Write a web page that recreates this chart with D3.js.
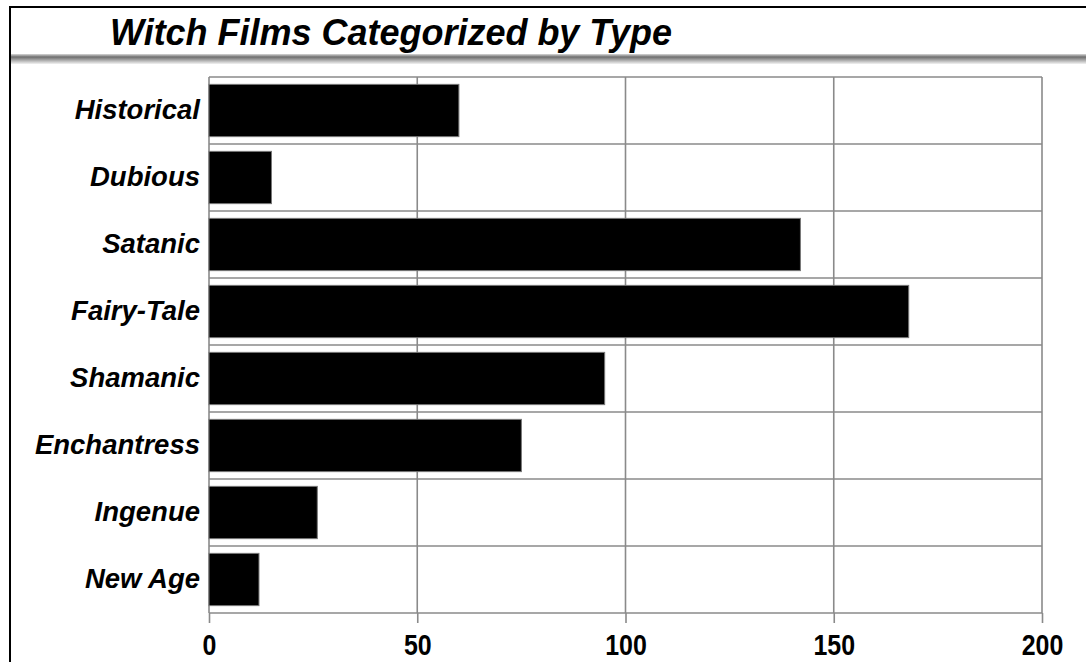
<!DOCTYPE html>
<html>
<head>
<meta charset="utf-8">
<script src="https://cdn.jsdelivr.net/npm/d3@7"></script>
<style>
  html, body { margin: 0; padding: 0; background: #fff; }
  svg { display: block; }
  text { font-family: "Liberation Sans", Arial, sans-serif; }
</style>
</head>
<body>
<svg id="chart" width="1086" height="662"></svg>
<script>
const title = "Witch Films Categorized by Type";
const categories = ["Historical", "Dubious", "Satanic", "Fairy-Tale", "Shamanic", "Enchantress", "Ingenue", "New Age"];
const values = [60, 15, 142, 168, 95, 75, 26, 12];
const tickValues = [0, 50, 100, 150, 200];

const svg = d3.select("#chart");
const W = 1086, H = 662;
const plot = { left: 209, right: 1042, top: 77, bottom: 613 };

// outer frame
svg.append("rect").attr("x", 10).attr("y", 7).attr("width", 1090).attr("height", 700)
  .attr("fill", "#fff").attr("stroke", "#000").attr("stroke-width", 2);

// title separator gradient
const defs = svg.append("defs");
const grad = defs.append("linearGradient").attr("id", "sep").attr("x1", 0).attr("y1", 0).attr("x2", 0).attr("y2", 1);
grad.append("stop").attr("offset", "0%").attr("stop-color", "#d8d8d8");
grad.append("stop").attr("offset", "30%").attr("stop-color", "#6e6e6e");
grad.append("stop").attr("offset", "100%").attr("stop-color", "#f2f2f2");
svg.append("rect").attr("x", 11).attr("y", 54).attr("width", W - 11).attr("height", 10).attr("fill", "url(#sep)");

// title
svg.append("text").attr("x", 110).attr("y", 45)
  .attr("font-size", 37).attr("font-weight", "bold").attr("font-style", "italic")
  .attr("fill", "#000").attr("textLength", 562).attr("lengthAdjust", "spacingAndGlyphs")
  .text(title);

const x = d3.scaleLinear().domain([0, 200]).range([plot.left, plot.right]);
const y = d3.scaleBand().domain(categories).range([plot.top, plot.bottom])
  .paddingInner(0.22).paddingOuter(0.11);

const gridColor = "#8a8a8a";

// horizontal grid lines at band boundaries
const step = y.step();
const hLines = d3.range(categories.length + 1).map(i => plot.top + i * step);
svg.append("g").selectAll("line").data(hLines).join("line")
  .attr("x1", plot.left).attr("x2", plot.right)
  .attr("y1", d => d).attr("y2", d => d)
  .attr("stroke", gridColor).attr("stroke-width", 1.6);

// vertical grid lines + axis
const xAxis = d3.axisBottom(x).tickValues(tickValues).tickSize(10).tickPadding(11).tickFormat(d3.format("d"));
const gx = svg.append("g").attr("transform", `translate(0,${plot.bottom})`).call(xAxis);
gx.select(".domain").remove();
gx.selectAll(".tick line").attr("stroke", gridColor).attr("stroke-width", 1.6);
gx.selectAll(".tick text").attr("font-size", 29).attr("font-weight", "bold")
  .attr("fill", "#000").attr("font-family", "Liberation Sans, Arial, sans-serif").attr("dy", "0.72em")
  .attr("transform", "scale(0.86,1)");

svg.append("g").selectAll("line").data(tickValues).join("line")
  .attr("x1", d => x(d)).attr("x2", d => x(d))
  .attr("y1", plot.top).attr("y2", plot.bottom)
  .attr("stroke", gridColor).attr("stroke-width", 1.6);

// bars
svg.append("g").selectAll("rect").data(values).join("rect")
  .attr("x", x(0))
  .attr("y", (d, i) => y(categories[i]))
  .attr("width", d => x(d) - x(0))
  .attr("height", y.bandwidth())
  .attr("fill", "#000").attr("stroke", "#777").attr("stroke-width", 1);

// y labels
const yAxis = d3.axisLeft(y).tickSize(0).tickPadding(9);
const gy = svg.append("g").attr("transform", `translate(${plot.left},0)`).call(yAxis);
gy.select(".domain").remove();
gy.selectAll(".tick text").attr("font-size", 27.5).attr("font-weight", "bold").attr("font-style", "italic")
  .attr("fill", "#000").attr("font-family", "Liberation Sans, Arial, sans-serif");
</script>
</body>
</html>
